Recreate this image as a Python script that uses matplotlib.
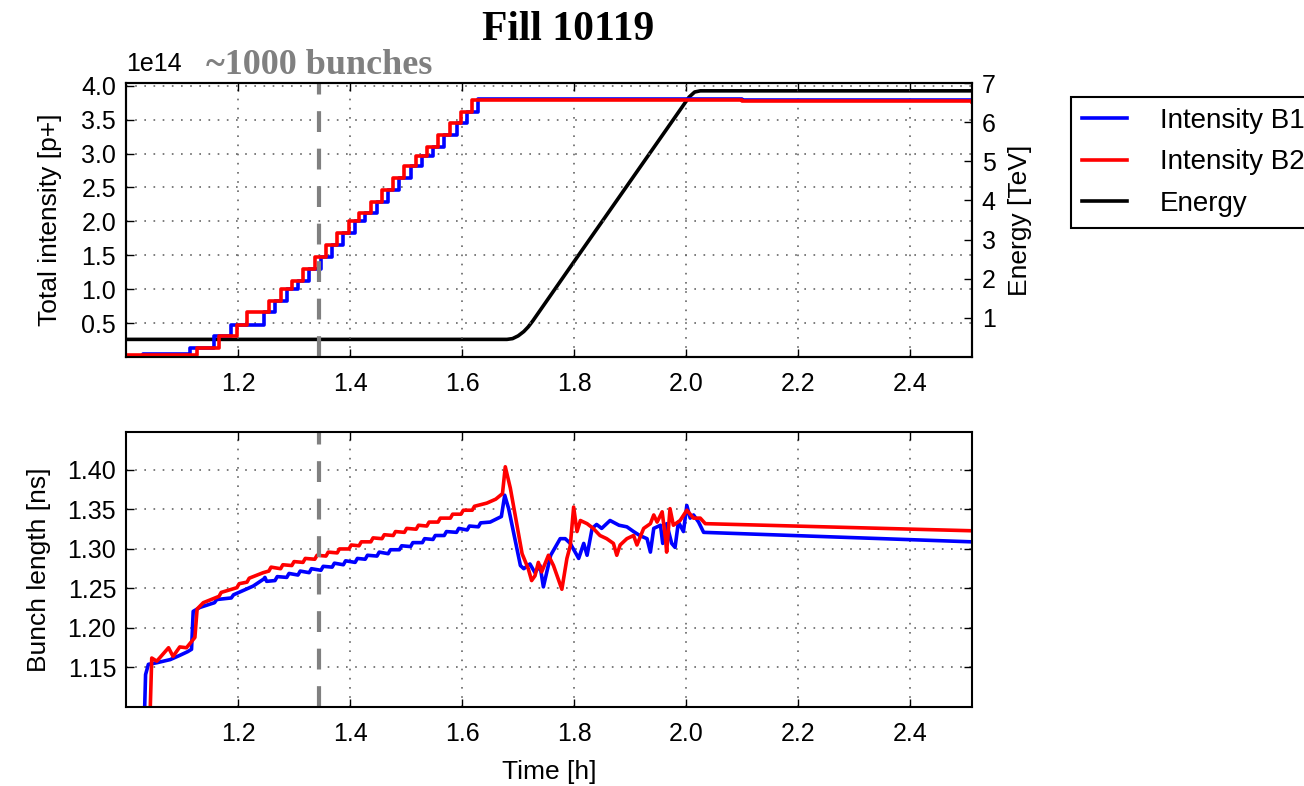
import numpy as np
import matplotlib
matplotlib.use("Agg")
import matplotlib.pyplot as plt

plt.rcParams['font.family'] = ['Liberation Sans', 'DejaVu Sans']
plt.rcParams['xtick.direction'] = 'in'
plt.rcParams['ytick.direction'] = 'in'

# ---- данные ----
t_mark = 1.345  # ~1000 bunches

# интенсивность (в единицах 1e14 p+), ступеньки инжекции
b2_t = [1.000, 1.127, 1.166, 1.198, 1.216, 1.255, 1.276, 1.296, 1.316, 1.337,
        1.357, 1.377, 1.398, 1.416, 1.437, 1.457, 1.477, 1.497, 1.518, 1.537,
        1.557, 1.579, 1.598, 1.618, 1.800, 2.100, 2.510]
b2_int = [0.03, 0.13, 0.31, 0.47, 0.66, 0.83, 1.00, 1.12, 1.30, 1.47,
          1.65, 1.83, 2.00, 2.12, 2.29, 2.46, 2.64, 2.81, 2.96, 3.10,
          3.27, 3.45, 3.61, 3.79, 3.79, 3.78, 3.76]
b1_t = [1.000, 1.030, 1.114, 1.158, 1.188, 1.246, 1.266, 1.287, 1.307, 1.327,
        1.348, 1.368, 1.388, 1.409, 1.427, 1.448, 1.468, 1.488, 1.508, 1.529,
        1.548, 1.568, 1.590, 1.609, 1.629, 1.800, 2.100, 2.510]
b1_int = [0.02, 0.04, 0.13, 0.31, 0.47, 0.66, 0.83, 1.00, 1.12, 1.30,
          1.47, 1.65, 1.83, 2.00, 2.12, 2.29, 2.46, 2.64, 2.81, 2.96,
          3.10, 3.27, 3.45, 3.61, 3.80, 3.80, 3.79, 3.77]

# энергия (TeV)
en_t = [1.000, 1.680, 1.690, 1.700, 1.710, 1.718, 1.726, 1.806, 1.900, 2.005,
        2.015, 2.025, 2.510]
en_val = [0.45, 0.45, 0.47, 0.54, 0.65, 0.77, 0.92, 2.565, 4.49, 6.64,
          6.77, 6.80, 6.80]

# длина сгустка (ns)
bl1_t = [1.033, 1.035, 1.040, 1.055, 1.079, 1.095, 1.110, 1.117, 1.120, 1.132,
         1.158, 1.162, 1.188, 1.192, 1.227, 1.246, 1.248, 1.251,
         1.266, 1.270, 1.287, 1.291, 1.307, 1.311, 1.327, 1.331, 1.348, 1.352,
         1.368, 1.372, 1.388, 1.392, 1.409, 1.413, 1.427, 1.431, 1.448, 1.452,
         1.468, 1.472, 1.488, 1.492, 1.508, 1.512, 1.529, 1.533, 1.548, 1.552,
         1.568, 1.572, 1.590, 1.594, 1.609, 1.613, 1.629, 1.633, 1.650, 1.670,
         1.676, 1.683, 1.704, 1.710, 1.721, 1.730,
         1.739, 1.745, 1.758, 1.775, 1.784, 1.793, 1.808, 1.817, 1.823, 1.832,
         1.840, 1.849, 1.864, 1.880, 1.894, 1.906, 1.917, 1.930, 1.936, 1.942,
         1.954, 1.958, 1.965, 1.974, 1.980, 1.986, 1.995, 2.001, 2.007, 2.013,
         2.022, 2.031, 2.510]
bl1_val = [1.090, 1.141, 1.154, 1.156, 1.160, 1.165, 1.170, 1.173, 1.221, 1.226,
           1.232, 1.236, 1.238, 1.242, 1.253, 1.262, 1.264, 1.259,
           1.260, 1.265, 1.264, 1.269, 1.267, 1.272, 1.270, 1.275, 1.273, 1.278,
           1.277, 1.282, 1.280, 1.285, 1.283, 1.288, 1.287, 1.292, 1.291, 1.296,
           1.294, 1.299, 1.299, 1.304, 1.303, 1.308, 1.308, 1.313, 1.312, 1.317,
           1.317, 1.322, 1.321, 1.326, 1.324, 1.329, 1.328, 1.333, 1.334, 1.341,
           1.368, 1.351, 1.279, 1.275, 1.281, 1.270,
           1.279, 1.252, 1.292, 1.313, 1.313, 1.307, 1.288, 1.307, 1.292, 1.326,
           1.331, 1.326, 1.336, 1.330, 1.328, 1.322, 1.317, 1.313, 1.296, 1.326,
           1.330, 1.307, 1.332, 1.307, 1.302, 1.334, 1.322, 1.355, 1.339, 1.343,
           1.334, 1.321, 1.309]

bl2_t = [1.043, 1.046, 1.055, 1.076, 1.084, 1.096, 1.108, 1.123, 1.127, 1.138,
         1.166, 1.170, 1.198, 1.202, 1.216, 1.220, 1.245,
         1.255, 1.259, 1.276, 1.280, 1.296, 1.300, 1.316, 1.320, 1.337, 1.341,
         1.357, 1.361, 1.377, 1.381, 1.398, 1.402, 1.416, 1.420, 1.437, 1.441,
         1.457, 1.461, 1.477, 1.481, 1.497, 1.501, 1.518, 1.522, 1.537, 1.541,
         1.557, 1.561, 1.579, 1.583, 1.598, 1.602, 1.618, 1.622, 1.644, 1.660,
         1.672, 1.677, 1.686, 1.707, 1.718, 1.724, 1.730, 1.736, 1.742, 1.754,
         1.763, 1.778, 1.787, 1.793, 1.799, 1.805, 1.811, 1.823, 1.834, 1.846,
         1.858, 1.870, 1.876, 1.882, 1.894, 1.906, 1.912, 1.924, 1.936, 1.942,
         1.948, 1.957, 1.963, 1.965, 1.971, 1.977, 1.989, 2.001, 2.013, 2.025,
         2.034, 2.510]
bl2_val = [1.090, 1.162, 1.158, 1.175, 1.164, 1.176, 1.175, 1.188, 1.224, 1.232,
           1.240, 1.245, 1.251, 1.256, 1.258, 1.263, 1.270,
           1.272, 1.277, 1.275, 1.280, 1.279, 1.284, 1.283, 1.288, 1.287, 1.292,
           1.291, 1.296, 1.295, 1.300, 1.300, 1.305, 1.304, 1.309, 1.309, 1.314,
           1.313, 1.318, 1.317, 1.322, 1.321, 1.326, 1.325, 1.330, 1.329, 1.334,
           1.334, 1.339, 1.339, 1.344, 1.344, 1.349, 1.349, 1.354, 1.358, 1.363,
           1.370, 1.404, 1.377, 1.294, 1.275, 1.260, 1.266, 1.283, 1.271, 1.292,
           1.279, 1.249, 1.288, 1.304, 1.353, 1.322, 1.336, 1.332, 1.326, 1.317,
           1.313, 1.307, 1.292, 1.305, 1.313, 1.317, 1.305, 1.326, 1.332, 1.343,
           1.334, 1.347, 1.313, 1.296, 1.351, 1.330, 1.336, 1.349, 1.339, 1.339,
           1.332, 1.323]

int_ticks = [0.5, 1.0, 1.5, 2.0, 2.5, 3.0, 3.5, 4.0]
en_ticks = [1, 2, 3, 4, 5, 6, 7]
bl_ticks = [1.15, 1.20, 1.25, 1.30, 1.35, 1.40]
t_ticks = [1.2, 1.4, 1.6, 1.8, 2.0, 2.2, 2.4]

TICK_FS = 18
LAB_FS = 19
GRID_LS = (0, (1, 4.5))
DASH_LS = (0, (5, 4))

fig = plt.figure(figsize=(13.04, 7.86), dpi=100)
ax1 = fig.add_axes([0.0966, 0.5458, 0.6488, 0.3486])
ax2 = fig.add_axes([0.0966, 0.1005, 0.6488, 0.3499])
axe = ax1.twinx()

# верхний график: интенсивность и энергия
l1, = ax1.step(b1_t, b1_int, where='post', color='blue', lw=2.6, label='Intensity B1')
l2, = ax1.step(b2_t, b2_int, where='post', color='red', lw=2.6, label='Intensity B2')
l3, = axe.plot(en_t, en_val, color='black', lw=2.6, label='Energy')
ax1.axvline(t_mark, color='gray', lw=3, linestyle=DASH_LS)
ax1.set_zorder(axe.get_zorder() + 1)
ax1.patch.set_visible(False)

ax1.set_xlim(1.0, 2.51)
ax1.set_ylim(0, 4.04)
ax1.set_yticks(int_ticks)
ax1.set_yticklabels([f'{v:.1f}' for v in int_ticks])
ax1.set_xticks(t_ticks)
ax1.set_ylabel('Total intensity [p+]', fontsize=LAB_FS, labelpad=14)
ax1.text(0.0, 1.025, '1e14', transform=ax1.transAxes, ha='left', va='bottom',
         fontsize=TICK_FS)
axe.set_ylim(0, 7)
axe.set_yticks(en_ticks)
axe.set_ylabel('Energy [TeV]', fontsize=LAB_FS, labelpad=9)
ax1.text(t_mark, 1.003, '~1000 bunches', transform=ax1.get_xaxis_transform(),
         ha='center', va='bottom', color='gray', fontsize=26, fontweight='bold',
         family='Liberation Serif')

# нижний график: длина сгустка
ax2.plot(bl1_t, bl1_val, color='blue', lw=2.6)
ax2.plot(bl2_t, bl2_val, color='red', lw=2.6)
ax2.axvline(t_mark, color='gray', lw=3, linestyle=DASH_LS)
ax2.set_xlim(1.0, 2.51)
ax2.set_ylim(1.10, 1.448)
ax2.set_yticks(bl_ticks)
ax2.set_yticklabels([f'{v:.2f}' for v in bl_ticks])
ax2.set_xticks(t_ticks)
ax2.set_xlabel('Time [h]', fontsize=LAB_FS, labelpad=10)
ax2.set_ylabel('Bunch length [ns]', fontsize=LAB_FS, labelpad=12)

for a in (ax1, ax2, axe):
    a.tick_params(labelsize=TICK_FS, length=6, width=1, colors='black')
    a.tick_params(axis='y', pad=7)
    a.tick_params(axis='x', pad=11)
    for s in a.spines.values():
        s.set_linewidth(1.5)
for a in (ax1, ax2):
    a.grid(True, linestyle=GRID_LS, color='#666666', lw=1.2)
ax2.tick_params(top=True, right=True)
ax1.tick_params(top=True)

# легенда выходит за правый край, как на оригинале
leg = fig.legend(handles=[l1, l2, l3], loc='upper left', bbox_to_anchor=(0.8213, 0.8766),
                 borderaxespad=0, fontsize=20, frameon=True, fancybox=False,
                 edgecolor='black', framealpha=1, handlelength=1.6,
                 handletextpad=1.2, labelspacing=0.55, borderpad=0.4)
leg.get_frame().set_linewidth(1.5)

fig.text(0.436, 0.962, 'Fill 10119', ha='center', va='center', fontsize=30,
         fontweight='bold', family='Liberation Serif')

fig.savefig('out.png', dpi=100)
